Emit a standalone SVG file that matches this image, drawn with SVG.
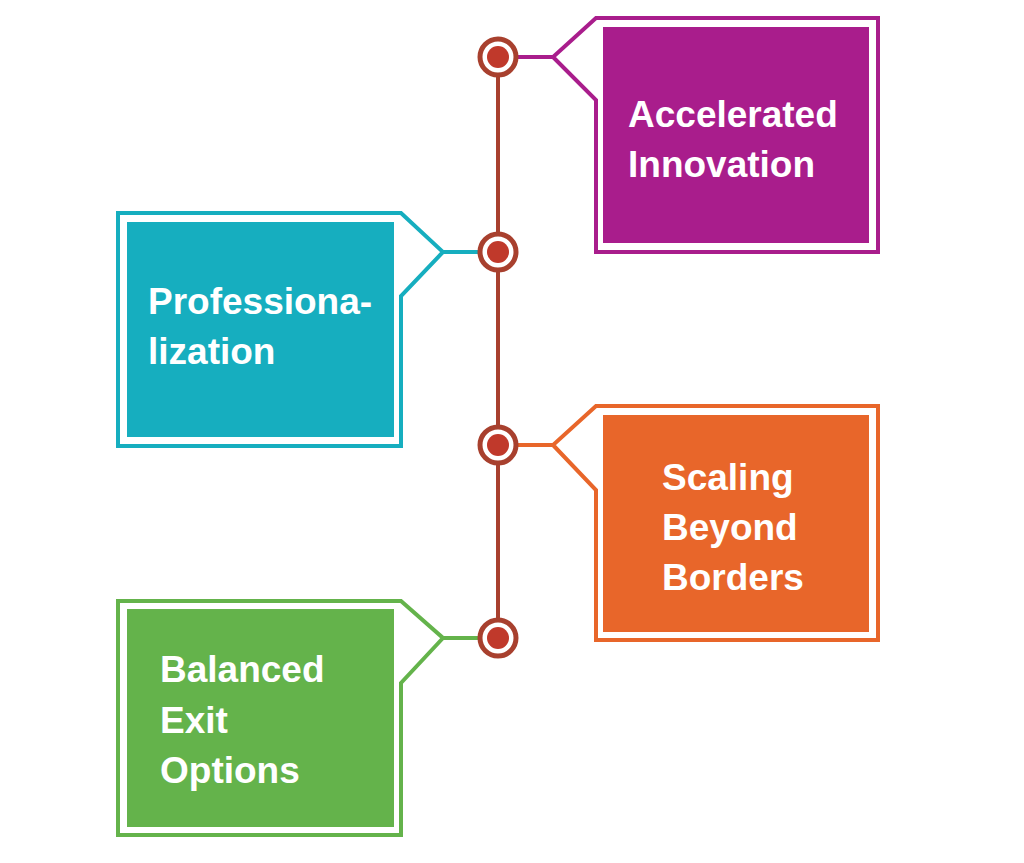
<svg xmlns="http://www.w3.org/2000/svg" width="1024" height="863" viewBox="0 0 1024 863">
<style>
.lbl{font-family:"Liberation Sans",Arial,sans-serif;font-weight:bold;font-size:37px;fill:#ffffff}
.outline{fill:none;stroke-width:4;stroke-linejoin:miter}
.ring{fill:#ffffff;stroke:#a8402e;stroke-width:5}
.dot{fill:#c0392b}
</style>
<rect width="1024" height="863" fill="#ffffff"/>
<g id="connectors">
<line x1="498" y1="57" x2="498" y2="638" stroke="#a8402e" stroke-width="4"/>
<line x1="498" y1="57" x2="553" y2="57" stroke="#a91d8c" stroke-width="4"/>
<line x1="443" y1="252" x2="498" y2="252" stroke="#16aebf" stroke-width="4"/>
<line x1="498" y1="445" x2="553" y2="445" stroke="#e8662a" stroke-width="4"/>
<line x1="443" y1="638" x2="498" y2="638" stroke="#64b34b" stroke-width="4"/>
</g>
<g id="markers">
<circle class="ring" cx="498" cy="57" r="18"/><circle class="dot" cx="498" cy="57" r="11"/>
<circle class="ring" cx="498" cy="252" r="18"/><circle class="dot" cx="498" cy="252" r="11"/>
<circle class="ring" cx="498" cy="445" r="18"/><circle class="dot" cx="498" cy="445" r="11"/>
<circle class="ring" cx="498" cy="638" r="18"/><circle class="dot" cx="498" cy="638" r="11"/>
</g>
<g id="node-accelerated">
<path class="outline" stroke="#a91d8c" d="M596 18 L878 18 L878 252 L596 252 L596 100 L553 57 Z"/>
<rect x="603" y="27" width="266" height="216" fill="#a91d8c"/>
<text class="lbl"><tspan x="628" y="127">Accelerated</tspan><tspan x="628" y="177">Innovation</tspan></text>
</g>
<g id="node-professionalization">
<path class="outline" stroke="#16aebf" d="M118 213 L401 213 L443 252 L401 296 L401 446 L118 446 Z"/>
<rect x="127" y="222" width="267" height="215" fill="#16aebf"/>
<text class="lbl"><tspan x="148" y="314">Professiona-</tspan><tspan x="148" y="364">lization</tspan></text>
</g>
<g id="node-scaling">
<path class="outline" stroke="#e8662a" d="M596 406 L878 406 L878 640 L596 640 L596 490 L553 445 Z"/>
<rect x="603" y="415" width="266" height="217" fill="#e8662a"/>
<text class="lbl"><tspan x="662" y="490">Scaling</tspan><tspan x="662" y="540">Beyond</tspan><tspan x="662" y="590">Borders</tspan></text>
</g>
<g id="node-balanced">
<path class="outline" stroke="#64b34b" d="M118 601 L401 601 L443 638 L401 683 L401 835 L118 835 Z"/>
<rect x="127" y="609" width="267" height="218" fill="#64b34b"/>
<text class="lbl"><tspan x="160" y="682">Balanced</tspan><tspan x="160" y="733">Exit</tspan><tspan x="160" y="783">Options</tspan></text>
</g>
</svg>
